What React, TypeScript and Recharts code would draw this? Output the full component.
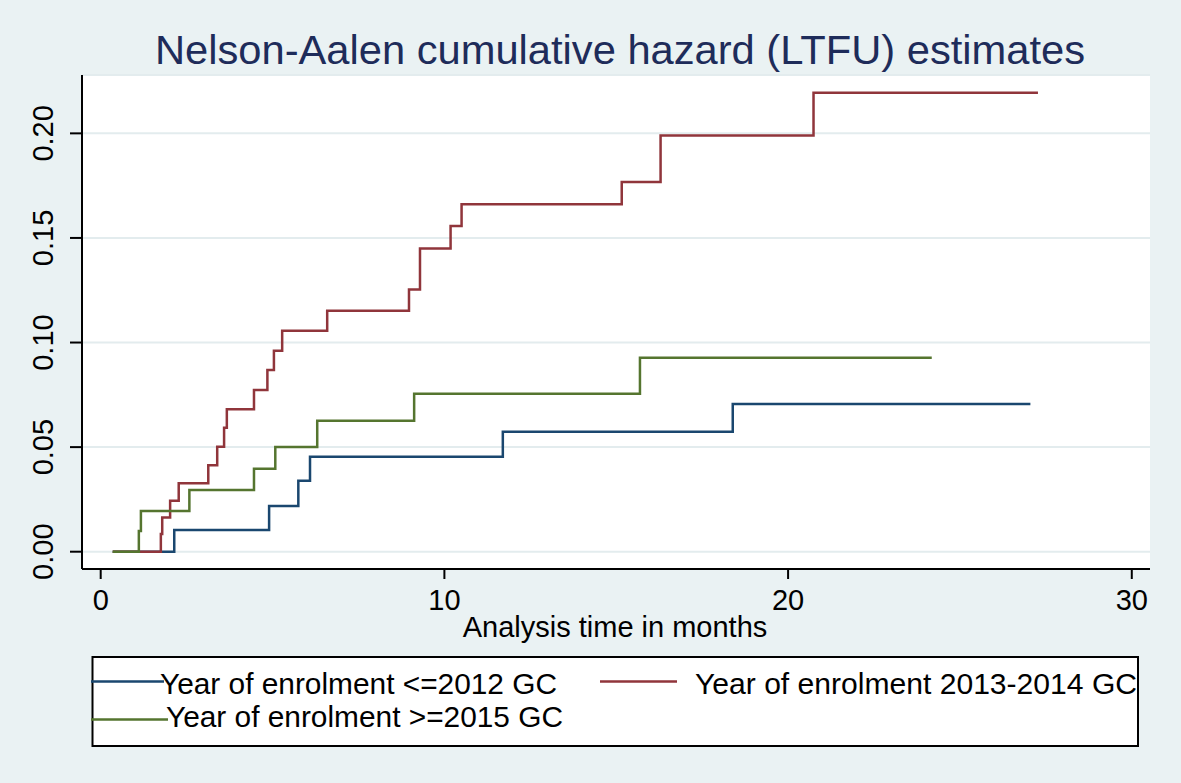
import React from "react";
import { LineChart, Line, XAxis, YAxis, CartesianGrid } from "recharts";

const titleText = "Nelson-Aalen cumulative hazard (LTFU) estimates";
const xAxisTitle = "Analysis time in months";
const seriesNames = [
  "Year of enrolment <=2012 GC",
  "Year of enrolment 2013-2014 GC",
  "Year of enrolment >=2015 GC",
];

const blueT = [0.35, 2.14, 4.9, 5.75, 6.09, 11.7, 18.39, 27.05];
const blueV = [0, 0.0104, 0.0218, 0.0339, 0.0454, 0.0574, 0.0706, 0.0706];

const redT = [0.35, 1.75, 1.79, 2.02, 2.27, 3.13, 3.39, 3.59, 3.67, 4.46, 4.85, 5.04, 5.28, 6.59, 8.97, 9.29, 10.18, 10.5, 15.16, 16.29, 20.74, 27.27];
const redV = [0, 0.0085, 0.0163, 0.0244, 0.0327, 0.0413, 0.0502, 0.0593, 0.0681, 0.0773, 0.0869, 0.0961, 0.1056, 0.1152, 0.1254, 0.145, 0.1557, 0.1661, 0.1767, 0.199, 0.2194, 0.2194];

const greenT = [0.35, 1.11, 1.17, 2.58, 4.46, 5.08, 6.3, 9.12, 15.69, 24.18];
const greenV = [0, 0.0099, 0.0195, 0.0295, 0.0397, 0.05, 0.0626, 0.0755, 0.0927, 0.0927];

const xTicks = [0, 10, 20, 30];
const yTicks = [0, 0.05, 0.1, 0.15, 0.2];

const toData = (ts: number[], vs: number[]) => ts.map((t, i) => ({ t, v: vs[i] }));
const blueData = toData(blueT, blueV);
const redData = toData(redT, redV);
const greenData = toData(greenT, greenV);

const BG = "#EAF2F3";
const BLUE = "#1a476f";
const RED = "#90353b";
const GREEN = "#55752f";
const FONT = "'Liberation Sans', Arial, Helvetica, sans-serif";

const XTick = (props: any) => {
  const { x, y, payload } = props;
  const label = String(payload.value);
  return (
    <text x={x} y={y + 29} textAnchor="middle" fontFamily={FONT} fontSize={29} fill="#000">
      {label}
    </text>
  );
};

const YTick = (props: any) => {
  const { x, y, payload } = props;
  const label = Number(payload.value).toFixed(2);
  const bx = x - 15;
  return (
    <text
      x={bx}
      y={y}
      textAnchor="middle"
      fontFamily={FONT}
      fontSize={29}
      fill="#000"
      transform={`rotate(-90, ${bx}, ${y})`}
    >
      {label}
    </text>
  );
};

export default function App() {
  return (
    <div
      style={{
        position: "absolute",
        left: 0,
        top: 0,
        width: 1181,
        height: 783,
        background: BG,
        overflow: "hidden",
      }}
    >
      <LineChart width={1181} height={783} margin={{ top: 75, right: 31, left: 22, bottom: 174 }}>
        <CartesianGrid vertical={false} fill="#ffffff" stroke="#E3ECEE" strokeWidth={2} />
        <XAxis
          type="number"
          dataKey="t"
          domain={[-0.544, 30.53]}
          allowDataOverflow
          ticks={xTicks}
          height={40}
          axisLine={{ stroke: "#000", strokeWidth: 2 }}
          tickLine={{ stroke: "#000", strokeWidth: 2 }}
          tickSize={10}
          tick={<XTick />}
        />
        <YAxis
          type="number"
          dataKey="v"
          domain={[-0.00827, 0.2279]}
          allowDataOverflow
          ticks={yTicks}
          width={60}
          axisLine={{ stroke: "#000", strokeWidth: 2 }}
          tickLine={{ stroke: "#000", strokeWidth: 2 }}
          tickSize={12}
          tick={<YTick />}
        />
        <Line data={blueData} dataKey="v" type="stepAfter" stroke={BLUE} strokeWidth={2.5} dot={false} isAnimationActive={false} name={seriesNames[0]} />
        <Line data={redData} dataKey="v" type="stepAfter" stroke={RED} strokeWidth={2.5} dot={false} isAnimationActive={false} name={seriesNames[1]} />
        <Line data={greenData} dataKey="v" type="stepAfter" stroke={GREEN} strokeWidth={2.5} dot={false} isAnimationActive={false} name={seriesNames[2]} />
      </LineChart>
      <svg width={1181} height={783} style={{ position: "absolute", left: 0, top: 0, pointerEvents: "none" }}>
        <text x={155} y={64} fontFamily={FONT} fontSize={40} fill="#1e2c5a" textLength={930} lengthAdjust="spacingAndGlyphs">
          {titleText}
        </text>
        <text x={615} y={637} textAnchor="middle" fontFamily={FONT} fontSize={29} fill="#000">
          {xAxisTitle}
        </text>
        <rect x={92.5} y={657} width={1045.5} height={89} fill="#ffffff" stroke="#000" strokeWidth={2} />
        <line x1={91} y1={681.5} x2={164} y2={681.5} stroke={BLUE} strokeWidth={2.6} />
        <text x={160} y={694} fontFamily={FONT} fontSize={29} fill="#000" textLength={397} lengthAdjust="spacingAndGlyphs">
          {seriesNames[0]}
        </text>
        <line x1={600} y1={681.5} x2={677} y2={681.5} stroke={RED} strokeWidth={2.6} />
        <text x={695} y={694} fontFamily={FONT} fontSize={29} fill="#000" textLength={442} lengthAdjust="spacingAndGlyphs">
          {seriesNames[1]}
        </text>
        <line x1={91} y1={719.5} x2={168} y2={719.5} stroke={GREEN} strokeWidth={2.6} />
        <text x={166} y={727} fontFamily={FONT} fontSize={29} fill="#000" textLength={397} lengthAdjust="spacingAndGlyphs">
          {seriesNames[2]}
        </text>
      </svg>
    </div>
  );
}
